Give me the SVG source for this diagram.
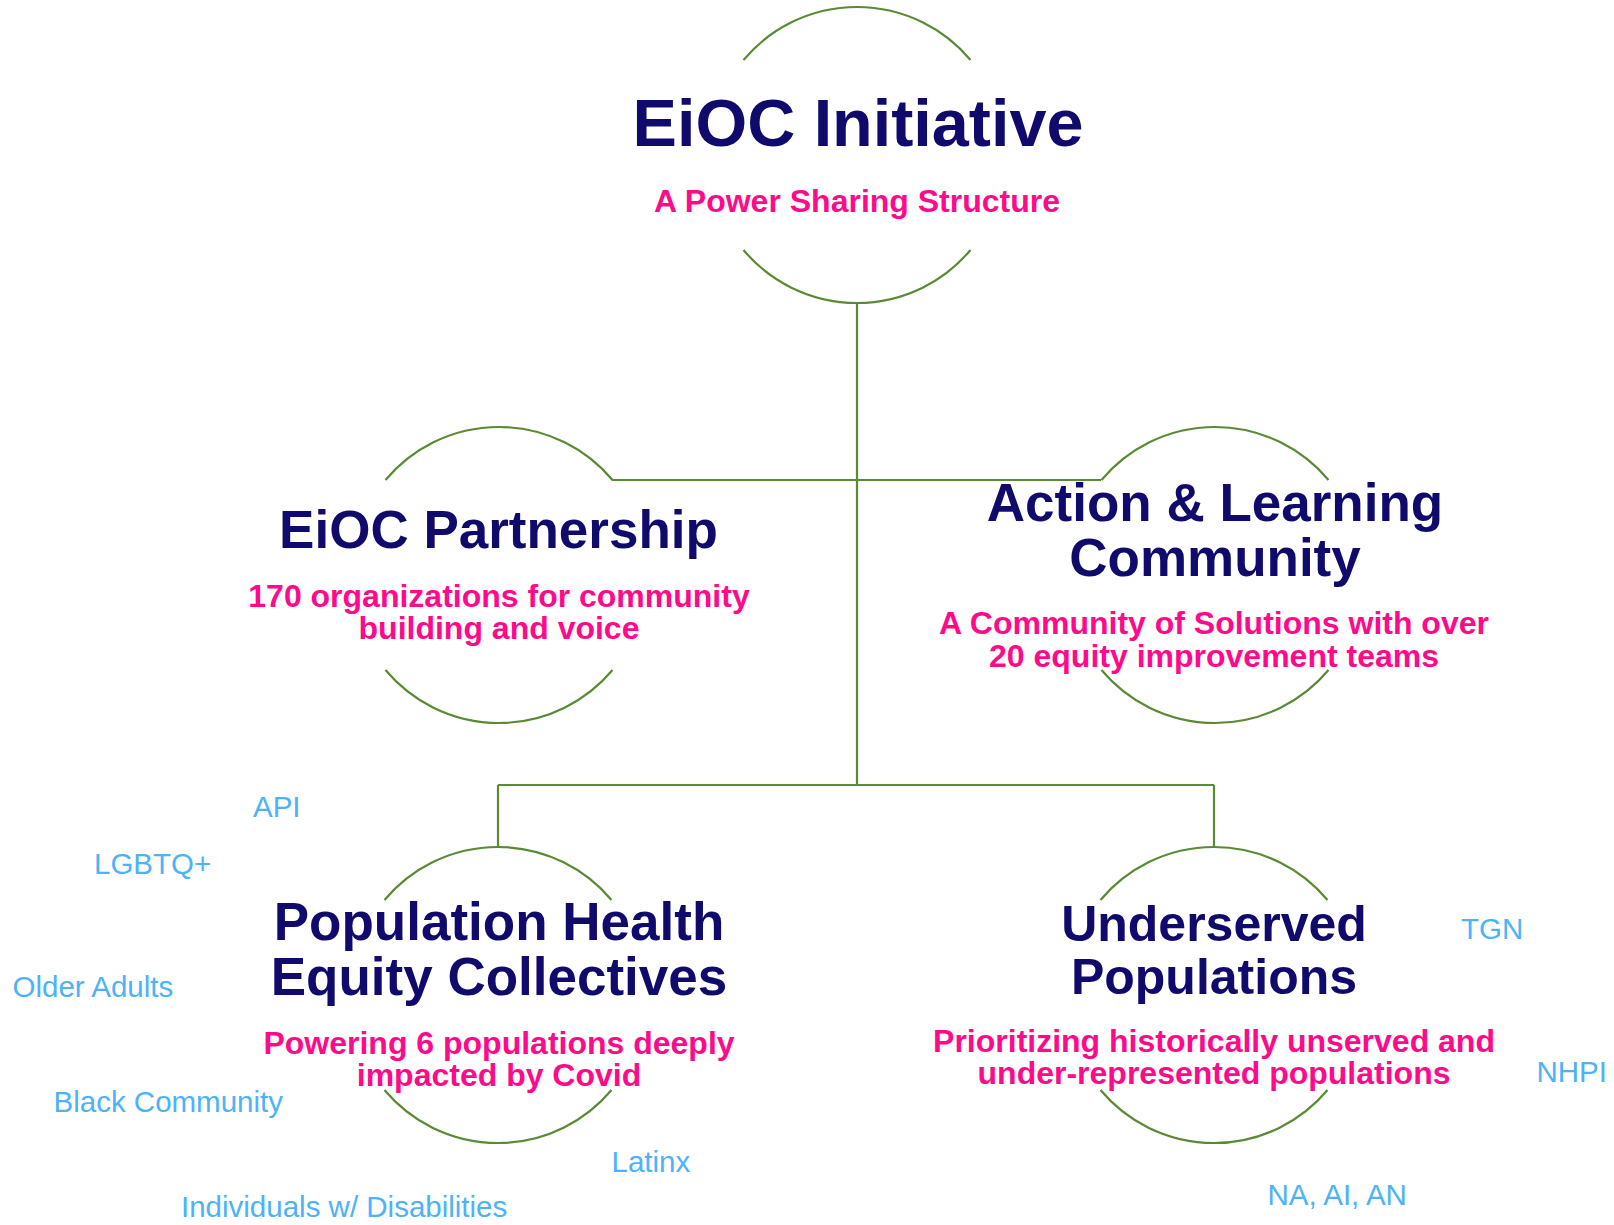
<svg xmlns="http://www.w3.org/2000/svg" width="1614" height="1225" viewBox="0 0 1614 1225">
<style>
.arc{fill:none;stroke:#5A8A34;stroke-width:2.2}
.conn{fill:none;stroke:#5A8A34;stroke-width:2.2}
.t{font-family:"Liberation Sans",Arial,sans-serif;font-weight:bold;fill:#0F0A6B;text-anchor:middle}
.s{font-family:"Liberation Sans",Arial,sans-serif;font-weight:bold;fill:#FF0A8A;text-anchor:middle;font-size:32px}
.l{font-family:"Liberation Sans",Arial,sans-serif;fill:#4DB2F7;font-size:29.5px}
</style>
<rect width="1614" height="1225" fill="#FFFFFF"/>
<g id="connectors">
<path class="conn" d="M857 303 V785"/>
<path class="conn" d="M612 480 H1101"/>
<path class="conn" d="M498 785 H1214"/>
<path class="conn" d="M498 785 V847"/>
<path class="conn" d="M1214 785 V847"/>
</g>
<g id="node-initiative">
<path class="arc" d="M743.5 60 A148 148 0 0 1 970.5 60"/>
<path class="arc" d="M743.5 250 A148 148 0 0 0 970.5 250"/>
<text class="t" x="858" y="146" font-size="66.5">EiOC Initiative</text>
<text class="s" x="857" y="212">A Power Sharing Structure</text>
</g>
<g id="node-partnership">
<path class="arc" d="M385.5 480 A148 148 0 0 1 612.5 480"/>
<path class="arc" d="M385.5 670 A148 148 0 0 0 612.5 670"/>
<text class="t" x="498.5" y="548" font-size="53">EiOC Partnership</text>
<text class="s" x="499" y="607">170 organizations for community</text>
<text class="s" x="499" y="639">building and voice</text>
</g>
<g id="node-alc">
<path class="arc" d="M1101.5 480 A148 148 0 0 1 1328.5 480"/>
<path class="arc" d="M1101.5 670 A148 148 0 0 0 1328.5 670"/>
<text class="t" x="1215" y="521" font-size="53">Action &amp; Learning</text>
<text class="t" x="1215" y="576" font-size="53">Community</text>
<text class="s" x="1214" y="634">A Community of Solutions with over</text>
<text class="s" x="1214" y="667">20 equity improvement teams</text>
</g>
<g id="node-phec">
<path class="arc" d="M384.5 900 A148 148 0 0 1 611.5 900"/>
<path class="arc" d="M384.5 1090 A148 148 0 0 0 611.5 1090"/>
<text class="t" x="499" y="940" font-size="53">Population Health</text>
<text class="t" x="499" y="995" font-size="53">Equity Collectives</text>
<text class="s" x="499" y="1054">Powering 6 populations deeply</text>
<text class="s" x="499" y="1086">impacted by Covid</text>
</g>
<g id="node-underserved">
<path class="arc" d="M1100.5 900 A148 148 0 0 1 1327.5 900"/>
<path class="arc" d="M1100.5 1090 A148 148 0 0 0 1327.5 1090"/>
<text class="t" x="1214" y="941" font-size="50">Underserved</text>
<text class="t" x="1214" y="994" font-size="50">Populations</text>
<text class="s" x="1214" y="1052">Prioritizing historically unserved and</text>
<text class="s" x="1214" y="1084">under-represented populations</text>
</g>
<g id="labels">
<text class="l" x="253" y="817">API</text>
<text class="l" x="94" y="874">LGBTQ+</text>
<text class="l" x="12.5" y="997">Older Adults</text>
<text class="l" x="53.5" y="1112">Black Community</text>
<text class="l" x="611.5" y="1172">Latinx</text>
<text class="l" x="181" y="1217">Individuals w/ Disabilities</text>
<text class="l" x="1461" y="939">TGN</text>
<text class="l" x="1536.5" y="1082">NHPI</text>
<text class="l" x="1267.5" y="1205">NA, AI, AN</text>
</g>
</svg>
